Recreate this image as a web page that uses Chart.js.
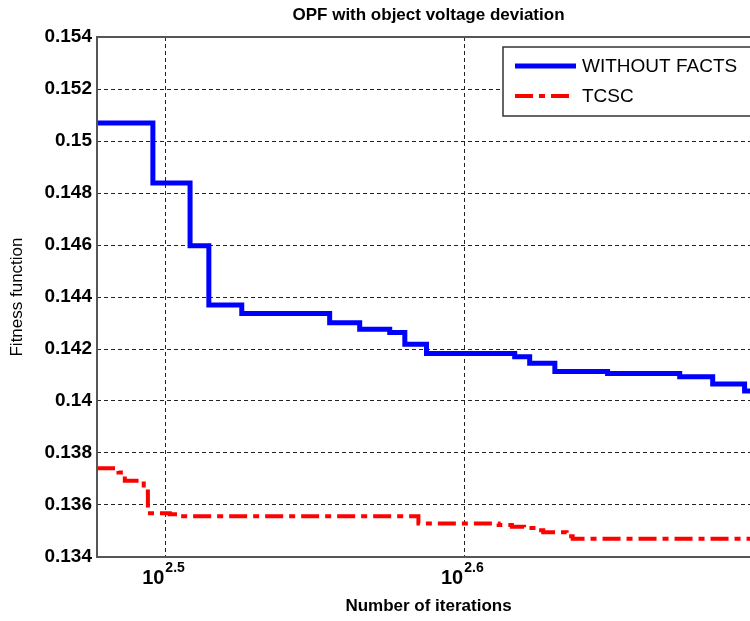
<!DOCTYPE html>
<html>
<head>
<meta charset="utf-8">
<title>OPF with object voltage deviation</title>
<script src="https://cdn.jsdelivr.net/npm/chart.js@4/dist/chart.umd.min.js"></script>
<style>
    html, body { margin: 0; padding: 0; background: #fff; overflow: hidden; }
    canvas { display: block; }
</style>
</head>
<body>
<canvas id="grafico" width="765" height="621"></canvas>
<script>
const tituloGrafico = "OPF with object voltage deviation";
const tituloX = "Number of iterations";
const tituloY = "Fitness function";

const iterSinFacts = [300, 313.2, 322.3, 327.0, 335.4, 358.9, 367.3, 375.9, 380.3, 386.7, 413.9, 418.7, 426.9, 444.6, 470.0, 482.1, 494.1, 500];
const fitSinFacts = [0.15069, 0.14838, 0.14597, 0.14369, 0.14337, 0.14301, 0.14276, 0.14263, 0.14218, 0.14183, 0.14170, 0.14145, 0.14113, 0.14106, 0.14093, 0.14065, 0.14038, 0.14038];

const iterTcsc = [300, 305.0, 306.5, 311.0, 312.0, 317.3, 319.2, 384.3, 408.8, 413.0, 416.9, 421.0, 423.1, 430.8, 432.8, 500];
const fitTcsc = [0.13741, 0.13725, 0.13693, 0.13652, 0.13568, 0.13564, 0.13557, 0.13529, 0.13523, 0.13516, 0.13512, 0.13503, 0.13495, 0.13480, 0.13470, 0.13470];

const xExponentes = [2.5, 2.6];
const yTicks = [0.134, 0.136, 0.138, 0.14, 0.142, 0.144, 0.146, 0.148, 0.15, 0.152, 0.154];

const fuenteAngosta = "'Liberation Sans Narrow', 'Liberation Sans', Arial, sans-serif";
const fuenteNormal = "'Liberation Sans', Arial, sans-serif";
const guionRojo = [18, 6, 6, 6];

const aPuntos = (xs, ys) => xs.map((x, i) => ({ x: x, y: ys[i] }));

// marco, titulo, etiquetas 10^x y leyenda con caja
const extras = {
    id: 'extras',
    afterDraw(chart) {
        const ctx = chart.ctx;
        const area = chart.chartArea;
        const escalaX = chart.scales.x;

        ctx.save();
        ctx.strokeStyle = '#555';
        ctx.lineWidth = 2;
        ctx.beginPath();
        ctx.moveTo(area.right, area.top);
        ctx.lineTo(area.left, area.top);
        ctx.lineTo(area.left, area.bottom);
        ctx.lineTo(area.right, area.bottom);
        ctx.stroke();

        ctx.fillStyle = '#000';
        ctx.textAlign = 'center';
        ctx.textBaseline = 'middle';
        ctx.font = "bold 17px " + fuenteAngosta;
        ctx.fillText(tituloGrafico, (area.left + area.right) / 2, 15);

        ctx.textBaseline = 'alphabetic';
        xExponentes.forEach(e => {
            const px = escalaX.getPixelForValue(Math.pow(10, e));
            ctx.font = "bold 20px " + fuenteAngosta;
            ctx.textAlign = 'right';
            ctx.fillText("10", px - 1, 584);
            ctx.font = "bold 14px " + fuenteAngosta;
            ctx.textAlign = 'left';
            ctx.fillText(e.toFixed(1), px, 572);
        });

        // leyenda
        const caja = { x: 503, y: 47, w: 280, h: 69 };
        ctx.fillStyle = '#fff';
        ctx.fillRect(caja.x, caja.y, caja.w, caja.h);
        ctx.strokeStyle = '#333';
        ctx.lineWidth = 1.5;
        ctx.strokeRect(caja.x, caja.y, caja.w, caja.h);

        const filas = [66, 96];
        chart.data.datasets.forEach((ds, i) => {
            const y = filas[i];
            ctx.beginPath();
            ctx.strokeStyle = ds.borderColor;
            ctx.lineWidth = ds.borderWidth;
            ctx.setLineDash(ds.borderDash || []);
            ctx.moveTo(515, y);
            ctx.lineTo(ds.borderDash ? 569 : 576, y);
            ctx.stroke();
            ctx.setLineDash([]);
            ctx.fillStyle = '#000';
            ctx.font = "19px " + fuenteNormal;
            ctx.textAlign = 'left';
            ctx.textBaseline = 'middle';
            ctx.fillText(ds.label, 582, y + 1);
        });
        ctx.restore();
    }
};

function graficar() {
    new Chart(document.getElementById("grafico"), {
        type: 'line',
        data: {
            datasets: [
                {
                    label: 'WITHOUT FACTS',
                    data: aPuntos(iterSinFacts, fitSinFacts),
                    borderColor: '#0000ff',
                    borderWidth: 5,
                    stepped: true,
                    pointRadius: 0
                },
                {
                    label: 'TCSC',
                    data: aPuntos(iterTcsc, fitTcsc),
                    borderColor: '#ff0000',
                    borderWidth: 4,
                    borderDash: guionRojo,
                    stepped: true,
                    pointRadius: 0
                }
            ]
        },
        options: {
            responsive: false,
            animation: false,
            layout: { padding: { left: 0, top: 37, right: 5, bottom: 0 } },
            scales: {
                x: {
                    type: 'logarithmic',
                    min: 300,
                    max: 500,
                    afterBuildTicks: s => { s.ticks = xExponentes.map(e => ({ value: Math.pow(10, e) })); },
                    afterFit: s => { s.height = 64; },
                    ticks: { display: false },
                    grid: { color: '#222', lineWidth: 1, drawTicks: false },
                    border: { display: false, dash: [4, 3] },
                    title: {
                        display: true,
                        text: tituloX,
                        color: '#000',
                        font: { family: fuenteAngosta, size: 17, weight: 'bold' },
                        padding: { top: 0, bottom: 4 }
                    }
                },
                y: {
                    min: 0.134,
                    max: 0.154,
                    afterBuildTicks: s => { s.ticks = yTicks.map(v => ({ value: v })); },
                    afterFit: s => { s.width = 97; },
                    ticks: {
                        color: '#000',
                        padding: 5,
                        font: { family: fuenteAngosta, size: 19, weight: 'bold' },
                        callback: v => Number(v.toFixed(3)).toString()
                    },
                    grid: { color: '#222', lineWidth: 1, drawTicks: false },
                    border: { display: false, dash: [4, 3] },
                    title: {
                        display: true,
                        text: tituloY,
                        color: '#000',
                        font: { family: fuenteAngosta, size: 17 },
                        padding: { top: 7, bottom: 0 }
                    }
                }
            },
            plugins: {
                legend: { display: false },
                tooltip: { enabled: false }
            }
        },
        plugins: [extras]
    });
}

graficar();
</script>
</body>
</html>
